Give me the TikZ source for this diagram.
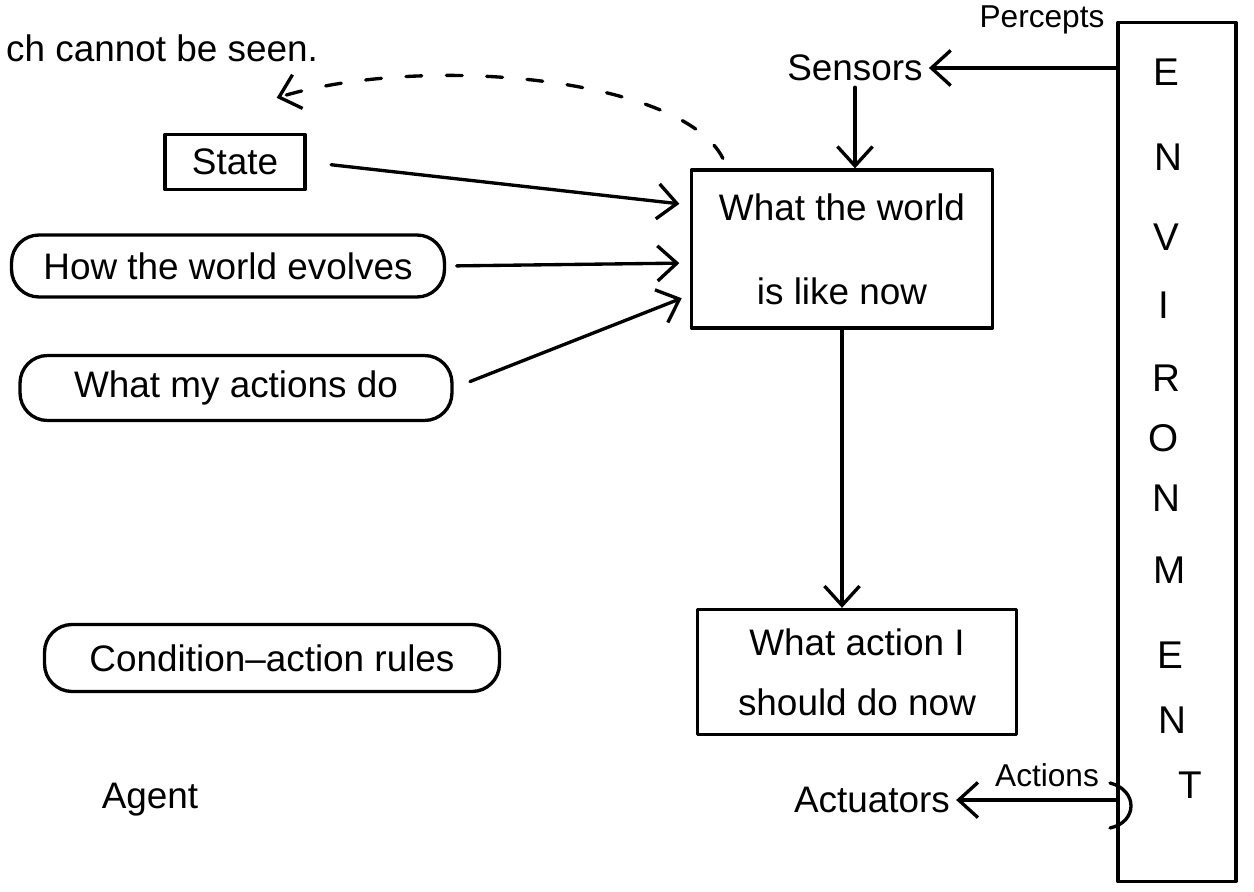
\documentclass[tikz,border=0pt]{standalone}
\usepackage{fontspec}
\setmainfont{Liberation Sans}
\usetikzlibrary{arrows.meta,calc}
\begin{document}
\begin{tikzpicture}[x=0.02cm,y=-0.02cm,
  every node/.style={font=\fontsize{21}{25}\selectfont},
  ink/.style={line width=1.9pt, line cap=round, line join=round},
  box/.style={ink, draw, inner sep=0pt},
  rbox/.style={box, rounded corners=0.55cm},
  tip/.style={-{Straight Barb[length=11pt,width=20pt,line width=1.9pt]}},
  arr/.style={ink, tip},
  small/.style={font=\fontsize{18}{21}\selectfont},
]
\useasboundingbox (0,0) rectangle (1254,892);

% free text
\node[anchor=west] (note) at (0,48) {ch cannot be seen.};
\node (agent) at (150,800) {Agent};

% agent internals
\node[box, minimum width=2.8cm, minimum height=1.1cm] (state) at (235,162) {State};
\node[rbox, minimum width=8.66cm, minimum height=1.24cm] (evolve) at (228,266) {How the world evolves};
\node[rbox, minimum width=8.64cm, minimum height=1.3cm] (effects) at (236,388) {What my actions do};
\node[rbox, minimum width=9.1cm, minimum height=1.34cm] (rules) at (272,658) {Condition–action rules};
\node[box, minimum width=6.02cm, minimum height=3.16cm, align=center,
      font=\fontsize{21}{48}\selectfont] (world) at (842,249) {What the world\\is like now};
\node[box, minimum width=6.38cm, minimum height=2.5cm, align=center,
      font=\fontsize{21}{34}\selectfont] (action) at (857,672) {What action I\\should do now};

% sensors / actuators
\node (sensors) at (855,68) {Sensors};
\node[small] (percepts) at (1042,20) {Percepts};
\node (actuators) at (872,800) {Actuators};
\node[small] (actions) at (1047,775) {Actions};

% environment column
\node[box, minimum width=2.36cm, minimum height=17.18cm] (env) at (1177,452) {};
\foreach \l/\xx/\yy [count=\i] in {E/1166/72, N/1168/157, V/1166/237, I/1164/305,
    R/1166/378, O/1164/438, N/1166/498, M/1170/570, E/1170/655, N/1172/720, T/1190/785}
  \node[font=\fontsize{22}{25}\selectfont] (env-\i) at (\xx,\yy) {\l};

% connectors
\draw[arr] (env.west |- sensors.east) -- (sensors.east);
\draw[arr] (sensors.south) -- (sensors.south |- world.north);
\draw[arr, shorten <=14pt, shorten >=6pt] (state.east) -- ([yshift=0.88cm]world.west);
\draw[arr, shorten <=6pt, shorten >=6pt] (evolve.east) -- ([yshift=-0.28cm]world.west);
\draw[arr, shorten <=10pt, shorten >=5pt] (effects.east) -- ([yshift=-0.92cm]world.west);
\draw[arr] (world.south) -- (world.south |- action.north);
\draw[arr] (env.west |- actuators.east) -- (actuators.east);

% hidden-state feedback
\draw[ink, tip, dash pattern=on 9pt off 14pt]
  ([xshift=0.66cm,yshift=0.2cm]world.north west)
  .. controls +(-40,-80) and +(150,-45) ..
  ([xshift=-0.6cm,yshift=0.7cm]state.north east);

% small loop on the environment edge
\draw[ink] (1110,783) .. controls (1138,790) and (1138,822) .. (1110,828);
\end{tikzpicture}
\end{document}
